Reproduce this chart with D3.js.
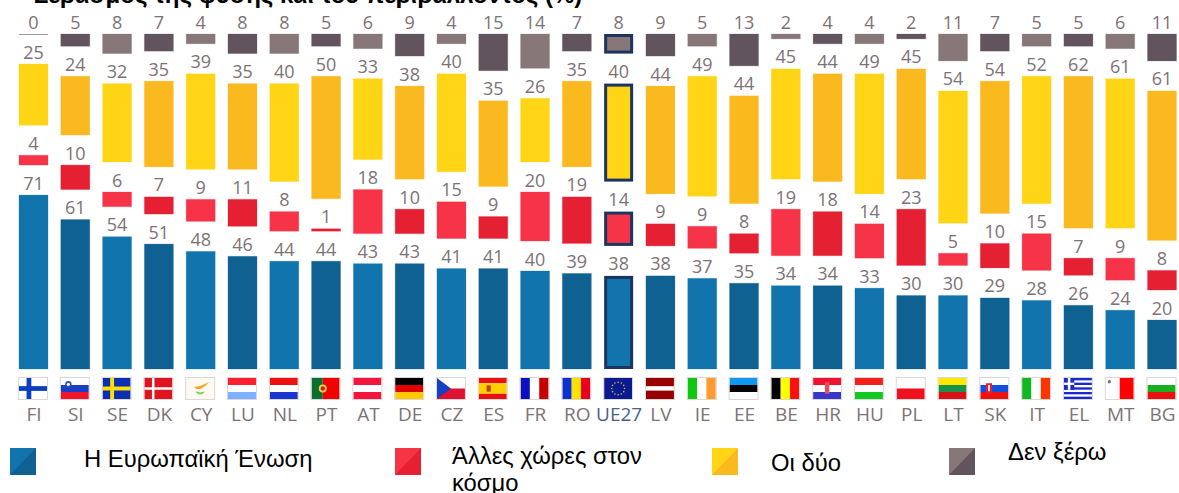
<!DOCTYPE html>
<html><head><meta charset="utf-8">
<script src="https://cdn.jsdelivr.net/npm/d3@7/dist/d3.min.js"></script>
<style>html,body{margin:0;padding:0;background:#fff;overflow:hidden}svg{display:block}</style>
</head><body><svg id="c" width="1179" height="493"></svg>
<script>
const categories=["FI","SI","SE","DK","CY","LU","NL","PT","AT","DE","CZ","ES","FR","RO","UE27","LV","IE","EE","BE","HR","HU","PL","LT","SK","IT","EL","MT","BG"];
const euValues=[71,61,54,51,48,46,44,44,43,43,41,41,40,39,38,38,37,35,34,34,33,30,30,29,28,26,24,20];
const otherValues=[4,10,6,7,9,11,8,1,18,10,15,9,20,19,14,9,9,8,19,18,14,23,5,10,15,7,9,8];
const bothValues=[25,24,32,35,39,35,40,50,33,38,40,35,26,35,40,44,49,44,45,44,49,45,54,54,52,62,61,61];
const dkValues=[0,5,8,7,4,8,8,5,6,9,4,15,14,7,8,9,5,13,2,4,4,2,11,7,5,5,6,11];
const seriesNames=["Η Ευρωπαϊκή Ένωση","Άλλες χώρες στον κόσμο","Οι δύο","Δεν ξέρω"];
const titleText="Σεβασμός της φύσης και του περιβάλλοντος (%)";

const svg=d3.select("#c");
const FONT="'Open Sans',sans-serif", SANS="'Liberation Sans',Arial,sans-serif";
const x=d3.scalePoint().domain(categories).range([33.5,1162]);
const BASE=369, GAP=30, BW=29;
const h=d3.scaleLinear().domain([0,100]).range([0,245]);
const palette=[["#1174ad","#0f6191"],["#f63347","#e52033"],["#ffd515","#fbb920"],["#887779","#61545c"]];
const seriesValues=[euValues,otherValues,bothValues,dkValues];
const labelCol="#7d7275";

svg.append("text").attr("x",34).attr("y",2.5).attr("font-family",SANS).attr("font-weight","bold")
  .attr("font-size",24).attr("fill","#000").text(titleText);

// Bars
categories.forEach((c,i)=>{
  let y=BASE;
  seriesValues.forEach((vals,s)=>{
    const v=vals[i], bh=h(v), top=y-bh, col=palette[s][i%2];
    const cx=x(c);
    if(c==="FI"&&s===3){
      svg.append("rect").attr("x",cx-BW/2).attr("y",top).attr("width",BW).attr("height",1).attr("fill","#a59a9c");
    } else if(c==="UE27"){
      svg.append("rect").attr("x",cx-BW/2+1.5).attr("y",top+1.5).attr("width",BW-3).attr("height",bh-3)
        .attr("fill",col).attr("stroke","#1c3560").attr("stroke-width",3);
    } else {
      svg.append("rect").attr("x",cx-BW/2).attr("y",top).attr("width",BW).attr("height",Math.max(bh,1.5))
        .attr("fill",col).attr("stroke",col).attr("stroke-opacity",.25).attr("stroke-width",1);
    }
    svg.append("text").attr("x",cx).attr("y",top-5.5).attr("text-anchor","middle")
      .attr("font-family",FONT).attr("font-size",18).attr("fill",labelCol).text(v);
    y=top-GAP;
  });
});

// Flags
function flag(cx,code){
  const W=28,H=21,g=svg.append("g").attr("transform",`translate(${cx-14.5},378)`);
  const r=(a,b,c,d,f)=>g.append("rect").attr("x",a*W).attr("y",b*H).attr("width",c*W).attr("height",d*H).attr("fill",f);
  const hs=(cs,ws)=>{let y=0;cs.forEach((f,k)=>{const t=ws?ws[k]:1/cs.length;r(0,y,1,t,f);y+=t;});};
  const vs=(cs)=>cs.forEach((f,k)=>r(k/cs.length,0,1/cs.length,1,f));
  const cross=(bg,f,t)=>{r(0,0,1,1,bg);r(.27,0,t,1,f);r(0,.5-t*W/H/2,1,t*W/H,f);};
  const dot=(a,b,rad,f)=>g.append("circle").attr("cx",a*W).attr("cy",b*H).attr("r",rad).attr("fill",f);
  switch(code){
    case "FI":cross("#fff","#0a3fc0",.17);break;
    case "SI":hs(["#fff","#1a3fc4","#f0142d"]);dot(.27,.3,3.2,"#2a52b8");dot(.27,.3,1.6,"#fff");break;
    case "SE":cross("#0a2fb0","#ffe000",.14);break;
    case "DK":cross("#df1420","#fff",.09);break;
    case "CY":r(0,0,1,1,"#fbfaf3");
      g.append("path").attr("d","M8 9 L14 8 L23 4 L19 8 L14 11 L10 11Z").attr("fill","#f5a623");
      g.append("path").attr("d","M10 14 Q14 18 18 14 Q14 16 10 14Z").attr("fill","#8cc63f").attr("stroke","#8cc63f");break;
    case "LU":hs(["#ff1e2d","#fff","#7db0ff"]);break;
    case "NL":hs(["#f01010","#fff","#1a35d0"]);break;
    case "PT":r(0,0,.4,1,"#06702c");r(.4,0,.6,1,"#f50000");dot(.4,.5,4,"#f3d04a");dot(.4,.5,2.2,"#c22");break;
    case "AT":hs(["#f5143c","#fff","#f5143c"]);break;
    case "DE":hs(["#000","#e00000","#ffc800"]);break;
    case "CZ":r(0,0,1,.5,"#fff");r(0,.5,1,.5,"#e01030");
      g.append("path").attr("d",`M0 0L${W/2} ${H/2}L0 ${H}Z`).attr("fill","#1540c0");break;
    case "ES":hs(["#e81010","#ffd000","#e81010"],[.25,.5,.25]);r(.28,.35,.15,.3,"#c04020");break;
    case "FR":vs(["#0a10c0","#fff","#c80000"]);break;
    case "RO":vs(["#0a30d0","#ffe000","#e80020"]);break;
    case "UE27":{r(0,0,1,1,"#0a1a90");d3.range(12).forEach(k=>{const a=k*Math.PI/6;
      dot(.5+Math.cos(a)*.23,.5+Math.sin(a)*.3,.8,"#d8c030");});break;}
    case "LV":hs(["#960000","#fff","#960000"],[.4,.2,.4]);break;
    case "IE":vs(["#10c810","#fff","#ff9a30"]);break;
    case "EE":hs(["#1098f0","#000","#fff"]);break;
    case "BE":vs(["#000","#ffff00","#ff1010"]);break;
    case "HR":hs(["#f01030","#fff","#3838c8"]);r(.42,.2,.16,.55,"#e05060");break;
    case "HU":hs(["#f0201c","#fff","#10c820"]);break;
    case "PL":hs(["#fff","#f01020"]);break;
    case "LT":hs(["#ffe800","#1a9048","#d81018"]);break;
    case "SK":hs(["#fff","#1050e0","#f01010"]);r(.2,.25,.22,.5,"#e02030");r(.28,.33,.06,.3,"#fff");break;
    case "IT":vs(["#10b820","#fff","#ff3500"]);break;
    case "EL":r(0,0,1,1,"#fff");d3.range(0,9,2).forEach(k=>r(0,k/9,1,1/9,"#1a28d0"));
      r(0,0,.37,.56,"#1a28d0");r(.14,0,.09,.56,"#fff");r(0,.22,.37,.11,"#fff");break;
    case "MT":r(0,0,.5,1,"#fff");r(.5,0,.5,1,"#ff0000");dot(.13,.18,1.7,"#777");break;
    case "BG":hs(["#fff","#18b020","#e81010"]);break;
  }
  g.append("rect").attr("x",-.5).attr("y",-.5).attr("width",W+1).attr("height",H+1).attr("fill","none").attr("stroke","#ddd6d6").attr("stroke-width",1);
}
categories.forEach(c=>flag(x(c),c));

// Category axis
const axis=svg.append("g").attr("transform","translate(0,403)").call(d3.axisBottom(x).tickSize(0).tickPadding(4));
axis.select(".domain").remove();
axis.selectAll("text").attr("font-family",FONT).attr("font-size",19).attr("fill",d=>d==="UE27"?"#46628c":"#7d7275");

// Legend
const defs=svg.append("defs");
palette.forEach((p,i)=>{
  const lg=defs.append("linearGradient").attr("id","lg"+i).attr("x1",0).attr("y1",1).attr("x2",1).attr("y2",0);
  lg.append("stop").attr("offset","50%").attr("stop-color",p[i===3||i===0?1:1]);
  lg.append("stop").attr("offset","50%").attr("stop-color",p[0]);
});
const legendX=[10,395,712,949];
legendX.forEach((lx,i)=>{
  svg.append("rect").attr("x",lx).attr("y",448).attr("width",26).attr("height",27).attr("fill",palette[i][0]);
  svg.append("path").attr("d",`M${lx+26} 448V475H${lx}Z`).attr("fill",palette[i][1]);
});
const legendText=[[84,467,seriesNames[0]],[452,464,"Άλλες χώρες στον"],[452,491,"κόσμο"],[771,471,seriesNames[2]],[1008,460,seriesNames[3]]];
legendText.forEach(t=>svg.append("text").attr("x",t[0]).attr("y",t[1]).attr("font-family",SANS).attr("font-size",23.8).attr("fill","#000").text(t[2]));
</script></body></html>
